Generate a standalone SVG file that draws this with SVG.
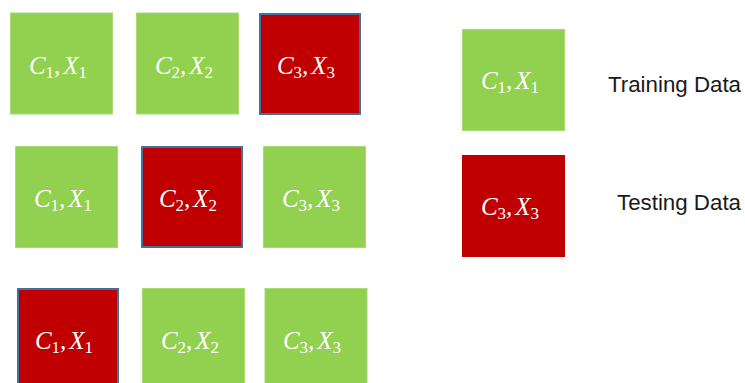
<svg xmlns="http://www.w3.org/2000/svg" width="745" height="383" viewBox="0 0 745 383">
<style>
.tr{fill:#92D050;stroke:#A9DA74;stroke-width:1}
.te{fill:#C00000;stroke:#41719C;stroke-width:2}
.lb{font-family:"Liberation Serif",serif;font-style:italic;font-size:25px;fill:#FFFFFF;text-anchor:middle}
.sb{font-style:normal;font-size:17px}
.lg{font-family:"Liberation Sans",sans-serif;font-size:22px;fill:#1A1A1A}
</style>
<rect width="745" height="383" fill="#FFFFFF"/>
<g id="r1c1"><rect class="tr" x="10.5" y="13" width="102" height="101"/><text class="lb" x="58" y="74">C<tspan class="sb" dy="4">1</tspan><tspan dy="-4">,</tspan><tspan dx="3">X</tspan><tspan class="sb" dy="4">1</tspan></text></g>
<g id="r1c2"><rect class="tr" x="136.5" y="13" width="102" height="101"/><text class="lb" x="184" y="74">C<tspan class="sb" dy="4">2</tspan><tspan dy="-4">,</tspan><tspan dx="3">X</tspan><tspan class="sb" dy="4">2</tspan></text></g>
<g id="r1c3"><rect class="te" x="260" y="14" width="100" height="100"/><text class="lb" x="306" y="74">C<tspan class="sb" dy="4">3</tspan><tspan dy="-4">,</tspan><tspan dx="3">X</tspan><tspan class="sb" dy="4">3</tspan></text></g>
<g id="r2c1"><rect class="tr" x="15.5" y="146.5" width="102" height="101"/><text class="lb" x="63" y="207">C<tspan class="sb" dy="4">1</tspan><tspan dy="-4">,</tspan><tspan dx="3">X</tspan><tspan class="sb" dy="4">1</tspan></text></g>
<g id="r2c2"><rect class="te" x="142" y="147" width="100" height="100"/><text class="lb" x="188" y="207">C<tspan class="sb" dy="4">2</tspan><tspan dy="-4">,</tspan><tspan dx="3">X</tspan><tspan class="sb" dy="4">2</tspan></text></g>
<g id="r2c3"><rect class="tr" x="263.5" y="146.5" width="102" height="101"/><text class="lb" x="311" y="207">C<tspan class="sb" dy="4">3</tspan><tspan dy="-4">,</tspan><tspan dx="3">X</tspan><tspan class="sb" dy="4">3</tspan></text></g>
<g id="r3c1"><rect class="te" x="18" y="289" width="100" height="100"/><text class="lb" x="64" y="349">C<tspan class="sb" dy="4">1</tspan><tspan dy="-4">,</tspan><tspan dx="3">X</tspan><tspan class="sb" dy="4">1</tspan></text></g>
<g id="r3c2"><rect class="tr" x="142.5" y="288.5" width="102" height="101"/><text class="lb" x="190" y="349">C<tspan class="sb" dy="4">2</tspan><tspan dy="-4">,</tspan><tspan dx="3">X</tspan><tspan class="sb" dy="4">2</tspan></text></g>
<g id="r3c3"><rect class="tr" x="265" y="288.5" width="102" height="101"/><text class="lb" x="312" y="349">C<tspan class="sb" dy="4">3</tspan><tspan dy="-4">,</tspan><tspan dx="3">X</tspan><tspan class="sb" dy="4">3</tspan></text></g>
<g id="legend-train"><rect class="tr" x="462.5" y="29.5" width="102" height="101"/><text class="lb" x="510" y="89">C<tspan class="sb" dy="4">1</tspan><tspan dy="-4">,</tspan><tspan dx="3">X</tspan><tspan class="sb" dy="4">1</tspan></text><text class="lg" x="608" y="92" textLength="133" lengthAdjust="spacingAndGlyphs">Training Data</text></g>
<g id="legend-test"><rect fill="#C00000" x="462" y="155" width="103" height="102"/><text class="lb" x="510" y="215">C<tspan class="sb" dy="4">3</tspan><tspan dy="-4">,</tspan><tspan dx="3">X</tspan><tspan class="sb" dy="4">3</tspan></text><text class="lg" x="617" y="210" textLength="124" lengthAdjust="spacingAndGlyphs">Testing Data</text></g>
<g id="connectors"/>
</svg>
